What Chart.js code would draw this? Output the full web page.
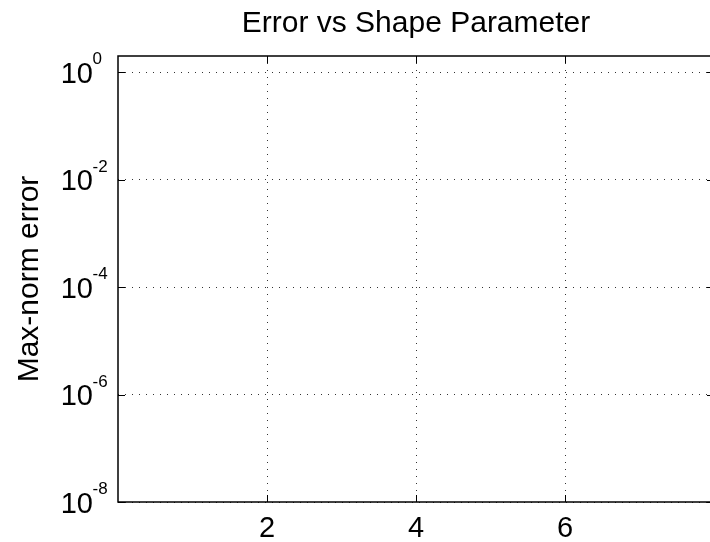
<!DOCTYPE html>
<html>
<head>
<meta charset="utf-8">
<title>Error vs Shape Parameter</title>
<script src="https://cdn.jsdelivr.net/npm/chart.js@4/dist/chart.umd.min.js"></script>
<style>
  html, body { margin: 0; padding: 0; background: #fff; overflow: hidden; }
  #wrap { position: relative; width: 730px; height: 542px; }
</style>
</head>
<body>
<div id="wrap"><canvas id="chart"></canvas></div>
<script>
// Series (no runs recorded yet, so the axes are empty)
const shapeParameters = [];
const maxNormErrors = [];

// Axis ranges and ticks
const xRange = [0, 8];
const yRange = [1e-8, 2];
const xTicks = [2, 4, 6];
const xTickLabels = ['2', '4', '6'];
const yTickExponents = [0, -2, -4, -6, -8];

const FONT = '"Liberation Sans", Arial, Helvetica, sans-serif';
const TICK_LEN = 7;

// Frame, inward tick marks and "10^k" tick labels
const axesDecor = {
  id: 'axesDecor',
  afterDraw(chart) {
    const { ctx, chartArea: a, scales: { x, y } } = chart;
    ctx.save();
    ctx.setLineDash([]);
    ctx.strokeStyle = '#000';

    // tick marks on all four sides, pointing inward
    ctx.lineWidth = 1;
    ctx.beginPath();
    xTicks.forEach(v => {
      const px = Math.round(x.getPixelForValue(v)) + 0.5;
      ctx.moveTo(px, a.bottom); ctx.lineTo(px, a.bottom - TICK_LEN);
      ctx.moveTo(px, a.top); ctx.lineTo(px, a.top + TICK_LEN);
    });
    yTickExponents.forEach(e => {
      const py = Math.round(y.getPixelForValue(Math.pow(10, e))) + 0.5;
      ctx.moveTo(a.left, py); ctx.lineTo(a.left + TICK_LEN, py);
      ctx.moveTo(a.right, py); ctx.lineTo(a.right - TICK_LEN, py);
    });
    ctx.stroke();

    // box around the axes
    ctx.lineWidth = 1.5;
    ctx.strokeRect(a.left, a.top, a.right - a.left, a.bottom - a.top);

    // x tick labels
    ctx.fillStyle = '#000';
    ctx.font = '29px ' + FONT;
    ctx.textAlign = 'center';
    ctx.textBaseline = 'alphabetic';
    xTicks.forEach((v, i) => {
      ctx.fillText(xTickLabels[i], x.getPixelForValue(v), a.bottom + 35);
    });

    // y tick labels: base "10" with a raised exponent
    yTickExponents.forEach(e => {
      const py = y.getPixelForValue(Math.pow(10, e));
      ctx.font = '29px ' + FONT;
      ctx.textAlign = 'right';
      ctx.fillText('10', a.left - 25, py + 10.5);
      ctx.font = '17px ' + FONT;
      ctx.textAlign = 'left';
      ctx.fillText(String(e), a.left - 25.5, py - 8);
    });
    ctx.restore();
  }
};

const points = shapeParameters.map((s, i) => ({ x: s, y: maxNormErrors[i] }));

new Chart(document.getElementById('chart'), {
  type: 'scatter',
  data: {
    datasets: [{
      label: 'Max-norm error',
      data: points,
      borderColor: '#0000ff',
      backgroundColor: '#0000ff'
    }]
  },
  options: {
    responsive: true,
    maintainAspectRatio: false,
    animation: false,
    devicePixelRatio: 1,
    layout: { padding: { left: 0, right: 16, top: 0, bottom: 0 } },
    plugins: {
      legend: { display: false },
      tooltip: { enabled: false },
      title: {
        display: true,
        text: 'Error vs Shape Parameter',
        fullSize: false,
        color: '#000',
        font: { family: FONT, size: 30, weight: 'normal', lineHeight: 1.2 },
        padding: { top: 6, bottom: 14 }
      }
    },
    scales: {
      x: {
        type: 'linear',
        min: xRange[0],
        max: xRange[1],
        afterBuildTicks: s => { s.ticks = xTicks.map(v => ({ value: v })); },
        afterFit: s => { s.height = 40; },
        ticks: { display: false },
        grid: { color: '#333', lineWidth: 1, drawTicks: false },
        border: { display: false, dash: [1, 6] }
      },
      y: {
        type: 'logarithmic',
        min: yRange[0],
        max: yRange[1],
        afterBuildTicks: s => { s.ticks = yTickExponents.map(e => ({ value: Math.pow(10, e) })); },
        afterFit: s => { s.width = 118; },
        ticks: { display: false },
        grid: { color: '#333', lineWidth: 1, drawTicks: false },
        border: { display: false, dash: [1, 6] },
        title: {
          display: true,
          text: 'Max-norm error',
          color: '#000',
          font: { family: FONT, size: 30, weight: 'normal', lineHeight: 1.2 },
          padding: { top: 12, bottom: 0 }
        }
      }
    }
  },
  plugins: [axesDecor]
});
</script>
</body>
</html>
